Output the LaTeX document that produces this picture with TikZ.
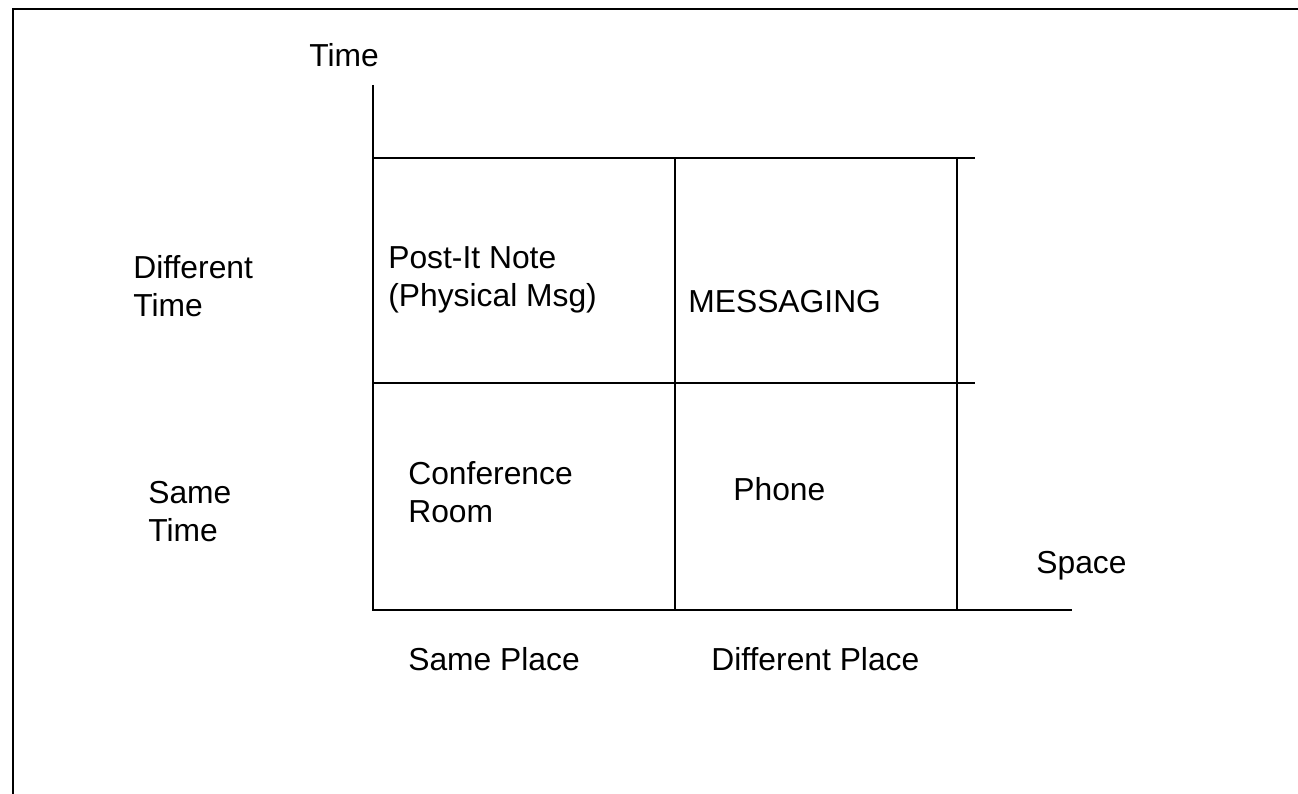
\documentclass[tikz,border=0pt]{standalone}
\usepackage{fontspec}
\setmainfont{Liberation Sans}

\begin{document}
\begin{tikzpicture}[
		x=0.02cm, y=-0.02cm,
		font=\fontsize{18.1}{21.5}\selectfont,
		every node/.style={inner sep=0pt, anchor=base west, align=left},
		frame/.style={line width=1.6pt},
		grid/.style={line width=1.1pt}
		]
		\useasboundingbox (0,0) rectangle (1298,794);
		
		% Frame
		\draw[frame] (13,794) -- (13,9) -- (1298,9);
		
		% Axes
		\coordinate (origin) at (373,610);
		\coordinate (ttop) at (373,85);
		\coordinate (send) at (1072,610);
		\draw[grid] (ttop) -- (origin) -- (send);
		
		% Grid
		\draw[grid] (373,158) -- (975,158);
		\draw[grid] (373,383) -- (975,383);
		\draw[grid] (675,158) -- (675,610);
		\draw[grid] (957,158) -- (957,610);
		
		% Axis labels
		\node (time) at (309,67) {Time};
		\node (space) at (1036,573) {Space};
		\node (difftime) at (133,316) {Different\\Time};
		\node (sametime) at (148,541) {Same\\Time};
		\node (sameplace) at (408,670) {Same Place};
		\node (diffplace) at (711,670) {Different Place};
		
		% Cells
		\node (postit) at (388,306) {Post-It Note\\(Physical Msg)};
		\node (msg) at (688,312) {MESSAGING};
		\node (conf) at (408,522) {Conference\\Room};
		\node (phone) at (733,500) {Phone};
		
	\end{tikzpicture}
\end{document}
